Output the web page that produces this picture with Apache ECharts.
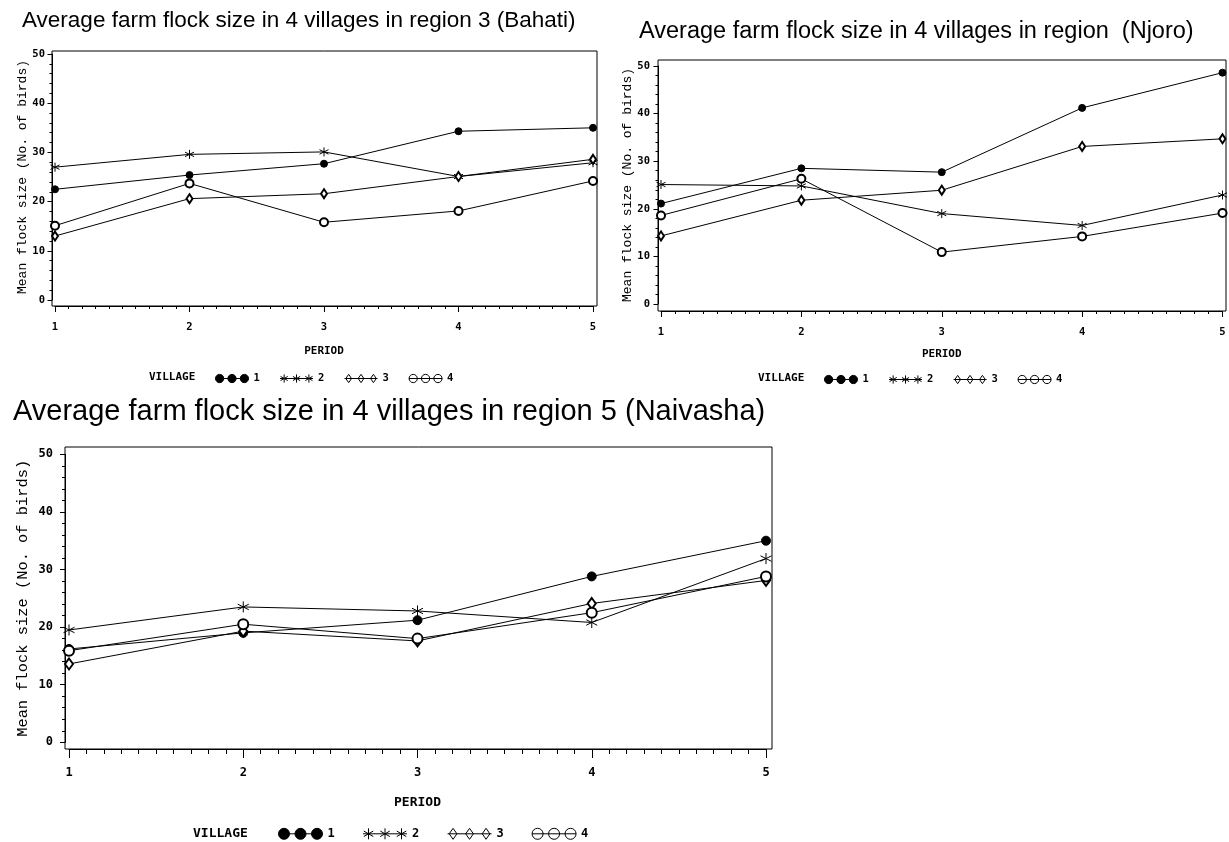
<!DOCTYPE html>
<html><head><meta charset="utf-8">
<script src="https://cdn.jsdelivr.net/npm/echarts@6/dist/echarts.min.js"></script>
<style>html,body{margin:0;padding:0;background:#fff}#c{width:1229px;height:842px}</style>
</head><body><div id="c"></div>
<script>
// ---------- data ----------
const periods = [1, 2, 3, 4, 5];
const villages = ['1', '2', '3', '4'];
const yTickMin = 0, yTickMax = 50, yTickStep = 10;
const titleBahati = 'Average farm flock size in 4 villages in region 3 (Bahati)';
const titleNjoro = 'Average farm flock size in 4 villages in region  (Njoro)';
const titleNaivasha = 'Average farm flock size in 4 villages in region 5 (Naivasha)';
const xName = 'PERIOD';
const yName = 'Mean flock size (No. of birds)';
const legendName = 'VILLAGE';

const bahatiV1 = [22.5, 25.4, 27.7, 34.3, 35.0];
const bahatiV2 = [27.0, 29.6, 30.1, 25.1, 27.9];
const bahatiV3 = [13.0, 20.6, 21.6, 25.1, 28.6];
const bahatiV4 = [15.1, 23.7, 15.8, 18.1, 24.2];

const njoroV1 = [21.1, 28.5, 27.7, 41.2, 48.6];
const njoroV2 = [25.1, 24.8, 19.0, 16.5, 22.9];
const njoroV3 = [14.3, 21.8, 23.9, 33.1, 34.7];
const njoroV4 = [18.6, 26.3, 10.9, 14.2, 19.1];

const naivashaV1 = [16.2, 19.0, 21.2, 28.8, 35.0];
const naivashaV2 = [19.5, 23.5, 22.8, 20.8, 31.9];
const naivashaV3 = [13.6, 19.3, 17.6, 24.1, 28.1];
const naivashaV4 = [15.9, 20.5, 18.0, 22.5, 28.8];

// ---------- styles ----------
const MONO_B = 'DejaVu Sans Mono';
const STAR = 'path://M4.33,0L4.33,10M0,2.5L8.66,7.5M0,7.5L8.66,2.5';
const symbols = ['circle', STAR, 'emptyDiamond', 'emptyCircle'];
function circ(cx){ return 'M'+(cx-5)+',5a5,5 0 1,0 10,0a5,5 0 1,0 -10,0'; }
function star(cx){ return 'M'+cx+',0L'+cx+',10M'+(cx-4.33)+',2.5L'+(cx+4.33)+',7.5M'+(cx-4.33)+',7.5L'+(cx+4.33)+',2.5'; }
function diam(cx){ return 'M'+cx+',0L'+(cx+3.5)+',5L'+cx+',10L'+(cx-3.5)+',5Z'; }
const legendIcons = [
  'path://M0,5L40,5' + circ(5) + circ(20) + circ(35),
  'path://M0,5L40,5' + star(5) + star(20) + star(35),
  'path://M0,5L40,5' + diam(5) + diam(20) + diam(35),
  'path://M0,5L40,5' + circ(5) + circ(20) + circ(35)
];
const legendFills = ['#000', '#000', '#fff', '#fff'];

const panels = [
  { title: titleBahati, vals: [bahatiV1, bahatiV2, bahatiV3, bahatiV4],
    frame: {left: 52, top: 51, width: 545, height: 255},
    grid: {left: 55, top: 54, width: 538, height: 246}, xOff: 6, yOff: 3,
    tickFs: 10.5, nameFs: 11, yNameFs: 13, xMargin: 16, yMargin: 7, xNameGap: 40, yNameGap: 22.5,
    majLen: 6, minLen: 3, yMajLen: 4.5, yMinLen: 2.5,
    sizes: [7, 9, [6, 9], 8],
    titlePos: {left: 22, top: 9, fs: 22.5},
    legend: {left: 215, top: 373, w: 33, h: 8.25, gap: 19.7},
    village: {left: 149, top: 372} },
  { title: titleNjoro, vals: [njoroV1, njoroV2, njoroV3, njoroV4],
    frame: {left: 658, top: 60, width: 568, height: 251},
    grid: {left: 661, top: 66, width: 561.5, height: 238}, xOff: 7, yOff: 3,
    tickFs: 10.5, nameFs: 11, yNameFs: 13, xMargin: 16, yMargin: 8, xNameGap: 37.5, yNameGap: 24,
    majLen: 6, minLen: 3, yMajLen: 4.5, yMinLen: 2.5,
    sizes: [7, 9, [6, 9], 8],
    titlePos: {left: 639, top: 19.5, fs: 23.5},
    legend: {left: 824, top: 374, w: 33, h: 8.25, gap: 19.7},
    village: {left: 758, top: 373} },
  { title: titleNaivasha, vals: [naivashaV1, naivashaV2, naivashaV3, naivashaV4],
    frame: {left: 65, top: 447, width: 707, height: 302},
    grid: {left: 69, top: 454.3, width: 697, height: 288}, xOff: 6.7, yOff: 4,
    tickFs: 12, nameFs: 13, yNameFs: 15.4, xMargin: 18, yMargin: 12, xNameGap: 47.5, yNameGap: 35,
    majLen: 9, minLen: 5, yMajLen: 5, yMinLen: 3,
    sizes: [9, 11, [8, 11], 10],
    titlePos: {left: 13, top: 397, fs: 29},
    legend: {left: 278, top: 827.8, w: 44, h: 11, gap: 27.8},
    village: {left: 193, top: 826.8} }
];

const option = {
  animation: false,
  backgroundColor: '#fff',
  title: [], legend: [], grid: [], xAxis: [], yAxis: [], series: []
};

panels.forEach((p, i) => {
  option.title.push({ text: p.title, left: p.titlePos.left, top: p.titlePos.top, padding: 0,
    textStyle: { fontFamily: 'Liberation Sans', fontWeight: 'normal', fontSize: p.titlePos.fs, color: '#000' } });
  option.title.push({ text: legendName, left: p.village.left, top: p.village.top, padding: 0,
    textStyle: { fontFamily: MONO_B, fontWeight: 'bold', fontSize: p.nameFs, color: '#000' } });
  option.legend.push({
    left: p.legend.left, top: p.legend.top, padding: 0, orient: 'horizontal',
    itemWidth: p.legend.w, itemHeight: p.legend.h, itemGap: p.legend.gap, selectedMode: false,
    textStyle: { fontFamily: MONO_B, fontWeight: 'bold', fontSize: p.tickFs, color: '#000' },
    data: villages.map((v, k) => ({ name: v, icon: legendIcons[k],
      itemStyle: { color: legendFills[k], borderColor: '#000', borderWidth: 1 } }))
  });
  option.grid.push(Object.assign({ containLabel: false, outerBoundsMode: 'none', show: false }, p.grid));
  option.xAxis.push({
    type: 'value', gridIndex: i, min: 1, max: 5, interval: 1, position: 'bottom', offset: p.xOff,
    axisLine: { show: true, onZero: false, lineStyle: { color: '#000', width: 1 } },
    axisTick: { show: true, length: p.majLen, lineStyle: { color: '#000', width: 1 } },
    minorTick: { show: true, splitNumber: 10, length: p.minLen, lineStyle: { color: '#000', width: 1 } },
    splitLine: { show: false }, minorSplitLine: { show: false },
    axisLabel: { color: '#000', fontFamily: MONO_B, fontWeight: 'bold', fontSize: p.tickFs, margin: p.xMargin,
      showMinLabel: true, showMaxLabel: true, hideOverlap: false },
    name: xName, nameLocation: 'middle', nameGap: p.xNameGap, nameMoveOverlap: false,
    nameTextStyle: { color: '#000', fontFamily: MONO_B, fontWeight: 'bold', fontSize: p.nameFs }
  });
  option.yAxis.push({
    type: 'value', gridIndex: i, min: yTickMin, max: yTickMax, interval: yTickStep, position: 'left', offset: p.yOff,
    axisLine: { show: true, onZero: false, lineStyle: { color: '#000', width: 1 } },
    axisTick: { show: true, length: p.yMajLen, lineStyle: { color: '#000', width: 1 } },
    minorTick: { show: true, splitNumber: 5, length: p.yMinLen, lineStyle: { color: '#000', width: 1 } },
    splitLine: { show: false }, minorSplitLine: { show: false },
    axisLabel: { color: '#000', fontFamily: MONO_B, fontWeight: 'bold', fontSize: p.tickFs, margin: p.yMargin,
      showMinLabel: true, showMaxLabel: true, hideOverlap: false },
    name: yName, nameLocation: 'middle', nameGap: p.yNameGap, nameMoveOverlap: false,
    nameTextStyle: { color: '#000', fontFamily: 'Liberation Mono', fontSize: p.yNameFs }
  });
  p.vals.forEach((vals, k) => {
    option.series.push({
      type: 'line', name: villages[k], xAxisIndex: i, yAxisIndex: i,
      data: periods.map((x, j) => [x, vals[j]]),
      symbol: symbols[k], symbolSize: p.sizes[k], showSymbol: true, showAllSymbol: true,
      lineStyle: { color: '#000', width: 1 },
      itemStyle: { color: '#000', borderColor: '#000', borderWidth: 1 },
      emphasis: { disabled: true }, silent: true, z: 3
    });
  });
});

// frames (separate grids with hidden axes)
panels.forEach((p, i) => {
  const gi = panels.length + i;
  option.grid.push(Object.assign({ show: true, backgroundColor: 'transparent', borderColor: '#000', borderWidth: 1,
    containLabel: false, outerBoundsMode: 'none' }, p.frame));
  option.xAxis.push({ type: 'value', gridIndex: gi, show: false, min: 0, max: 1 });
  option.yAxis.push({ type: 'value', gridIndex: gi, show: false, min: 0, max: 1 });
});

const chart = echarts.init(document.getElementById('c'), null, { renderer: 'canvas' });
chart.setOption(option);
</script>
</body></html>
